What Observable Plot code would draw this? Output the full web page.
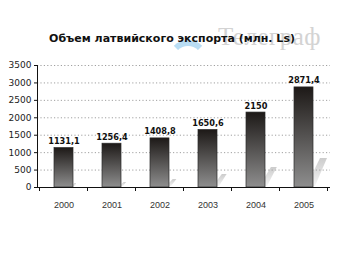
<!DOCTYPE html>
<html>
<head>
<meta charset="utf-8">
<script src="https://cdn.jsdelivr.net/npm/d3@7"></script>
<script src="https://cdn.jsdelivr.net/npm/@observablehq/plot@0.6"></script>
<style>
  html, body { margin: 0; padding: 0; background: #fff; }
  #wrap { position: relative; width: 340px; height: 255px; overflow: hidden; }
  #title { position: absolute; left: 0; width: 344px; top: 32px; text-align: center;
           font: bold 11px "DejaVu Sans", sans-serif; color: #111; z-index: 3; white-space: nowrap; }
  #logo { position: absolute; left: 218px; top: 23px; font: 25px "Liberation Serif", "DejaVu Serif", serif;
          color: #d3d3d3; letter-spacing: 0.5px; z-index: 1; }
  #arc { position: absolute; left: 168px; top: 40px; width: 28px; height: 28px; border: 6px solid #b9ddf4;
         border-bottom-color: transparent; border-left-color: transparent; border-right-color: transparent;
         border-radius: 50%; z-index: 1; }
  #chart { position: absolute; left: 0; top: 0; z-index: 2; }
</style>
</head>
<body>
<div id="wrap">
  <div id="arc"></div>
  <div id="logo">Телеграф</div>
  <div id="title">Объем латвийского экспорта (млн. Ls)</div>
  <div id="chart"></div>
</div>
<script>
const years = ["2000", "2001", "2002", "2003", "2004", "2005"];
const values = [1131.1, 1256.4, 1408.8, 1650.6, 2150, 2871.4];
const yTicks = [0, 500, 1000, 1500, 2000, 2500, 3000, 3500];

const data = years.map((year, i) => ({year, value: values[i]}));
const fmt = v => String(v).replace(".", ",");

function decor(index, scales, values_, dims) {
  const sx = scales.x, sy = scales.y;
  const bw = typeof sx.bandwidth === "function" ? sx.bandwidth() : sx.bandwidth;
  const y0 = sy(0);
  const g = d3.create("svg:g");
  const defs = g.append("defs");
  const grad = defs.append("linearGradient").attr("id", "barGrad")
    .attr("x1", 0).attr("y1", 0).attr("x2", 0).attr("y2", 1);
  grad.append("stop").attr("offset", "0%").attr("stop-color", "#1d1917");
  grad.append("stop").attr("offset", "100%").attr("stop-color", "#8e8e8e");
  const sg = defs.append("linearGradient").attr("id", "shGrad")
    .attr("x1", 0).attr("y1", 0).attr("x2", 0).attr("y2", 1);
  sg.append("stop").attr("offset", "0%").attr("stop-color", "#cccccc");
  sg.append("stop").attr("offset", "100%").attr("stop-color", "#f4f4f4");
  // decorative shadows to the right of each bar
  years.forEach((yr, i) => {
    const xr = sx(yr) + bw;
    const h = 4 + i * i * 1.0;
    const w = 3 + i * 2.2;
    g.append("polygon")
      .attr("points", [[xr, y0 - 1], [xr, y0 - h * 0.5], [xr + w * 0.5, y0 - h], [xr + w, y0 - h], [xr + 2, y0 - 1]].map(p => p.join(",")).join(" "))
      .attr("fill", "url(#shGrad)");
  });
  return g.node();
}

function axes(index, scales, values_, dims) {
  const sx = scales.x, sy = scales.y;
  const bw = typeof sx.bandwidth === "function" ? sx.bandwidth() : sx.bandwidth;
  const step = sx(years[1]) - sx(years[0]);
  const y0 = sy(0);
  const left = dims.marginLeft, right = dims.width - dims.marginRight;
  const g = d3.create("svg:g").attr("stroke", "#111").attr("stroke-width", 1).attr("shape-rendering", "crispEdges");
  g.append("line").attr("x1", left).attr("x2", left).attr("y1", sy(yTicks[yTicks.length - 1])).attr("y2", y0);
  g.append("line").attr("x1", left).attr("x2", right).attr("y1", y0).attr("y2", y0);
  const bounds = years.map(yr => sx(yr) + bw / 2 - step / 2);
  bounds.push(sx(years[years.length - 1]) + bw / 2 + step / 2);
  bounds.forEach(b => g.append("line").attr("x1", b).attr("x2", b).attr("y1", y0).attr("y2", y0 + 4));
  return g.node();
}

const plot = Plot.plot({
  width: 340,
  height: 255,
  marginLeft: 37,
  marginRight: 10,
  marginTop: 65,
  marginBottom: 68,
  style: {background: "transparent"},
  x: {domain: years, paddingInner: 0.61, paddingOuter: 0.305, label: null},
  y: {domain: [0, 3500], label: null},
  marks: [
    decor,
    Plot.ruleY(yTicks.filter(t => t > 0), {stroke: "#a0a0a0", strokeDasharray: "1.2,2.2", strokeWidth: 1}),
    Plot.barY(data, {x: "year", y: "value", fill: "url(#barGrad)", stroke: "#2a2a2a", strokeWidth: 0.7}),
    Plot.text(data, {x: "year", y: "value", text: d => fmt(d.value), dy: -4, lineAnchor: "bottom",
      fontWeight: "bold", fontSize: 8.2, fontFamily: "DejaVu Sans", fill: "#111"}),
    Plot.axisY({ticks: yTicks, tickFormat: d => String(d), tickSize: 3, tickPadding: 3, fontSize: 9,
      fontFamily: "DejaVu Sans", color: "#222", stroke: "#111", letterSpacing: 0.6}),
    Plot.axisX({tickSize: 0, tickPadding: 14, fontSize: 9, fontFamily: "Liberation Sans", fill: "#333"}),
    axes
  ]
});
document.getElementById("chart").appendChild(plot);
</script>
</body>
</html>
